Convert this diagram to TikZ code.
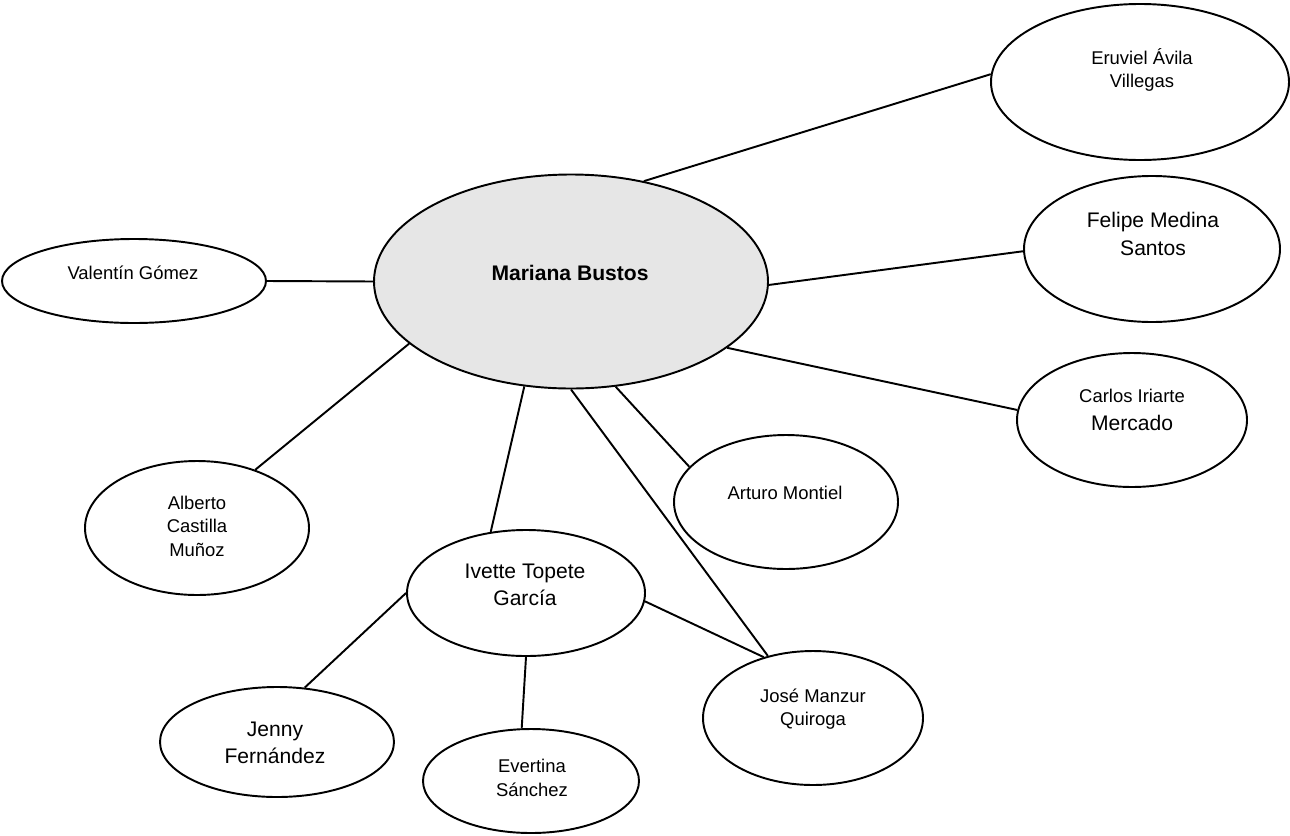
\documentclass[tikz,border=0pt]{standalone}
\usepackage{fontspec}
\setmainfont{Liberation Sans}
\usetikzlibrary{shapes.geometric}
\definecolor{hubfill}{HTML}{E6E6E6}
\newcommand{\smalltxt}{\fontsize{10.5}{13.4}\selectfont}
\newcommand{\bigtxt}{\fontsize{12}{15.5}\selectfont}

\begin{document}
\begin{tikzpicture}[x=0.02cm,y=-0.02cm,line width=1.1pt,
  person/.style={draw,ellipse,inner sep=0pt},
  lbl/.style={align=center,inner sep=0pt}]
% 1 unit = 1 px of the 1290 x 835 sheet, y runs downwards
\useasboundingbox (0,0) rectangle (1290,835);
\node[person,fill=hubfill,minimum width=394*0.02cm,minimum height=214*0.02cm] (mb) at (571,281.5) {};
\foreach \n/\x/\y/\rx/\ry in {eav/1140/82/149/78, fms/1152/249/128/73, cim/1132/420/115/67,
    vg/134/281/132/42, acm/197/528/112/67, am/786/502/112/67, itg/526/593/119/63,
    jmq/813/718/110/67, jf/277/742/117/55, es/531/781/108/52}
  {\node[person,minimum width=2*\rx*0.02cm,minimum height=2*\ry*0.02cm] (\n) at (\x,\y) {};}
\node[lbl,font=\bigtxt\bfseries] (t-mb) at (570,272.5) {Mariana Bustos};
\node[lbl,font=\smalltxt] (t-eav) at (1142,70) {Eruviel Ávila\\Villegas};
\node[lbl,font=\bigtxt] (t-fms) at (1153,234) {Felipe Medina\\Santos};
\node[lbl,font=\bigtxt] (t-cim) at (1132,410) {{\smalltxt Carlos Iriarte}\\Mercado};
\node[lbl,font=\smalltxt] (t-vg) at (133,273) {Valentín Gómez};
\node[lbl,font=\smalltxt] (t-acm) at (197,526) {Alberto\\Castilla\\Muñoz};
\node[lbl,font=\smalltxt] (t-am) at (785,493) {Arturo Montiel};
\node[lbl,font=\bigtxt] (t-itg) at (525,584.5) {Ivette Topete\\García};
\node[lbl,font=\smalltxt] (t-jmq) at (813,709) {José Manzur\\Quiroga};
\node[lbl,font=\bigtxt] (t-jf) at (275,743) {Jenny\\Fernández};
\node[lbl,font=\smalltxt] (t-es) at (532,778) {Evertina\\Sánchez};
% links
\draw (mb.54.9) -- (eav.177.3);
\draw (mb.-1.6) -- (fms.181);
\draw (mb.-23.7) -- (cim.175);
\draw (vg.0) -- (mb.180);
\draw (mb.-159.3) -- (acm.45);
\draw (mb.-114.7) -- (itg.120.5);
\draw (mb.-90) -- (jmq.126);
\draw (mb.-67.5) -- (am.160.3);
\draw (itg.-4.3) -- (jmq.129);
\draw (itg.180) -- (jf.63.9);
\draw (itg.-90) -- (es.100);
\end{tikzpicture}
\end{document}
